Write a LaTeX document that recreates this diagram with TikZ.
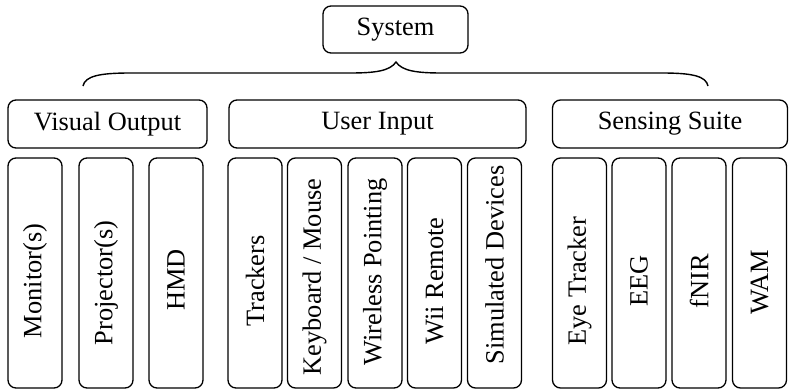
\documentclass[tikz,border=0pt]{standalone}
\usepackage{fontspec}
\setmainfont{Liberation Serif}
\newfontfamily\tnr{Liberation Serif}
\begin{document}
\begin{tikzpicture}[x=1pt,y=-1pt,
  box/.style={draw, line width=1.3pt, rounded corners=8pt, inner sep=0pt,
    font=\tnr\fontsize{26.4}{30}\selectfont},
  topbox/.style={box, minimum height=47pt},
  leaf/.style={box, minimum width=54pt, minimum height=230pt},
  vlabel/.style={rotate=90, font=\tnr\fontsize{26.4}{30}\selectfont, inner sep=0pt},
  bracepath/.style={line width=1.4pt}]
\useasboundingbox (0,0) rectangle (789,389);
% top
\node[topbox, minimum width=145pt] (sys) at (395.5,29.5) {System};
% groups
\node[topbox, minimum width=199pt, minimum height=48pt] (vo) at (107.5,124) {Visual Output};
\node[topbox, minimum width=297pt, minimum height=48pt] (ui) at (377.5,124) {User Input};
\node[topbox, minimum width=235pt, minimum height=48pt] (ss) at (670,124) {Sensing Suite};
% brace
\coordinate (bl) at (83,86);
\coordinate (br) at (708,86);
\coordinate (bt) at (396,62);
\draw[bracepath] (bl) .. controls (85,76) and (100,73) .. (130,73) -- (350,73)
  .. controls (375,73) and (390,71) .. (bt)
  .. controls (402,71) and (417,73) .. (442,73) -- (662,73)
  .. controls (692,73) and (706,76) .. (br);
% leaves
\foreach \n/\x/\y/\t in {mon/35/281/{Monitor(s)}, proj/106/283/{Projector(s)}, hmd/176/280/HMD,
  trk/255/281/Trackers, kbd/314.5/277/{Keyboard / Mouse}, wp/375/272/{Wireless Pointing},
  wii/434.5/281/{Wii Remote}, sim/494.5/265/{Simulated Devices},
  eye/579.5/281/{Eye Tracker}, eeg/639/281/EEG, fnir/699/281/fNIR, wam/759.5/282/WAM}{
  \node[leaf] (\n) at (\x,273) {};
  \node[vlabel] (\n-t) at (\x,\y) {\t};
}
\end{tikzpicture}
\end{document}
